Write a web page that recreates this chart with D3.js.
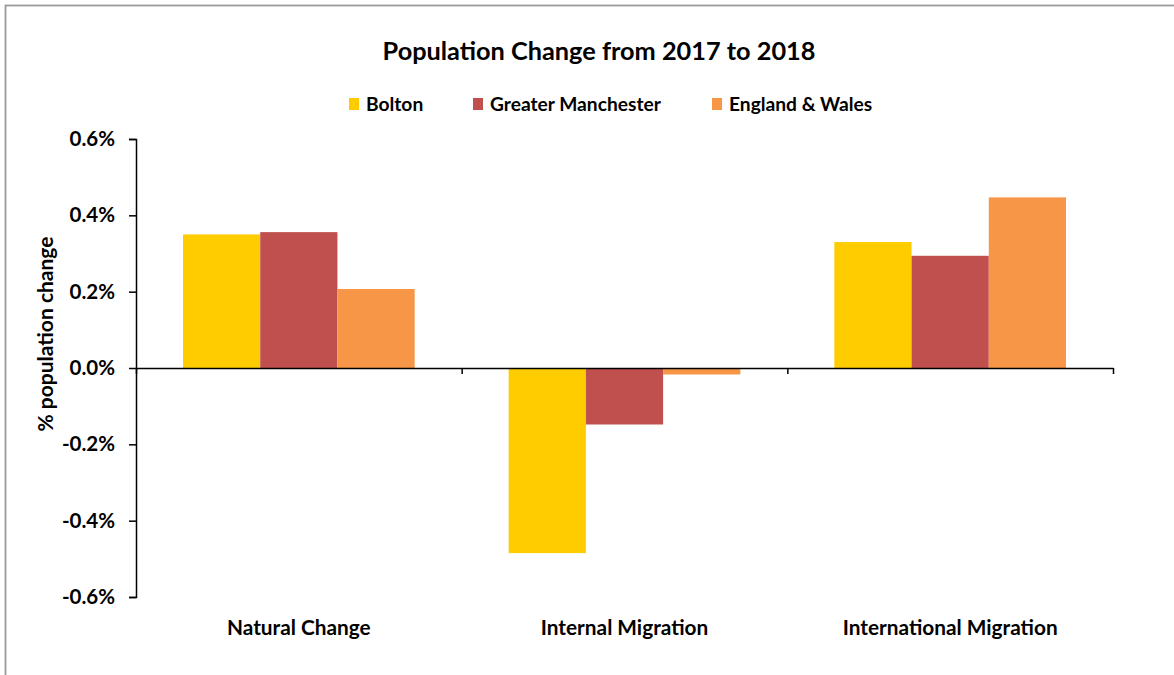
<!DOCTYPE html>
<html>
<head>
<meta charset="utf-8">
<script src="https://cdn.jsdelivr.net/npm/d3@7"></script>
<style>
  html, body { margin: 0; padding: 0; background: #fff; }
  svg { display: block; }
  text { font-family: Lato, "Open Sans", sans-serif; font-weight: bold; fill: #000; }
</style>
</head>
<body>
<svg id="chart" width="1174" height="675"></svg>
<script>
const title = "Population Change from 2017 to 2018";
const categories = ["Natural Change", "Internal Migration", "International Migration"];
const seriesNames = ["Bolton", "Greater Manchester", "England & Wales"];
const seriesColors = ["#FFCC00", "#C0504D", "#F79646"];
const bolton = [0.35, -0.485, 0.33];
const greaterManchester = [0.356, -0.148, 0.294];
const englandWales = [0.207, -0.017, 0.447];
const yTicks = [-0.6, -0.4, -0.2, 0.0, 0.2, 0.4, 0.6];
const yAxisTitle = "% population change";

const seriesValues = [bolton, greaterManchester, englandWales];

const svg = d3.select("#chart");

// outer border (only top/left visible)
svg.append("rect")
  .attr("x", 5.5).attr("y", 5.5)
  .attr("width", 1300).attr("height", 800)
  .attr("fill", "none").attr("stroke", "#9a9a9a").attr("stroke-width", 1.8);

const plotLeft = 136, plotRight = 1113, plotTop = 139, plotBottom = 597;

const x0 = d3.scaleBand().domain(categories).range([plotLeft, plotRight]).padding(0);
const gap = 47;
const x1 = d3.scaleBand().domain(seriesNames).range([gap, x0.bandwidth() - gap]).padding(0);
const y = d3.scaleLinear().domain([-0.6, 0.6]).range([plotBottom, plotTop]);

// bars
const groups = svg.append("g").selectAll("g")
  .data(categories)
  .join("g")
  .attr("transform", d => `translate(${x0(d)},0)`);

groups.selectAll("rect")
  .data((c, ci) => seriesNames.map((s, si) => ({ s, si, v: seriesValues[si][ci] })))
  .join("rect")
  .attr("x", d => x1(d.s))
  .attr("width", x1.bandwidth())
  .attr("y", d => y(Math.max(0, d.v)))
  .attr("height", d => Math.abs(y(d.v) - y(0)))
  .attr("fill", d => seriesColors[d.si]);

// y axis
const yAxis = d3.axisLeft(y)
  .tickValues(yTicks)
  .tickSize(7)
  .tickPadding(14)
  .tickFormat(d => d.toFixed(1) + "%");
const yg = svg.append("g").attr("transform", `translate(${plotLeft},0)`).call(yAxis);
yg.select(".domain").attr("stroke", "#000").attr("stroke-width", 1.5);
yg.selectAll(".tick line").attr("stroke", "#000").attr("stroke-width", 1.5);
yg.selectAll(".tick text")
  .style("font-family", "Lato, sans-serif")
  .style("font-weight", "bold")
  .style("font-size", "20.5px")
  .attr("fill", "#000");

// x axis at zero
const xAxisScale = d3.scaleLinear().domain([0, categories.length]).range([plotLeft, plotRight]);
const xg = svg.append("g").attr("transform", `translate(0,${y(0)})`)
  .call(d3.axisBottom(xAxisScale).tickValues(d3.range(categories.length + 1)).tickSize(6).tickSizeOuter(0).tickFormat(""));
xg.select(".domain").attr("stroke", "#000").attr("stroke-width", 1.5);
xg.selectAll(".tick line").attr("stroke", "#000").attr("stroke-width", 1.5);

// category labels
svg.append("g").selectAll("text")
  .data(categories)
  .join("text")
  .attr("x", d => x0(d) + x0.bandwidth() / 2)
  .attr("y", 635)
  .attr("text-anchor", "middle")
  .style("font-size", "20.8px")
  .text(d => d);

// y axis title
svg.append("text")
  .attr("transform", `translate(53,334) rotate(-90)`)
  .attr("text-anchor", "middle")
  .style("font-size", "21px")
  .text(yAxisTitle);

// title
svg.append("text")
  .attr("x", 599).attr("y", 60)
  .attr("text-anchor", "middle")
  .style("font-size", "25.3px")
  .text(title);

// legend
const legendX = [349, 473, 712];
const lg = svg.append("g").selectAll("g")
  .data(seriesNames)
  .join("g")
  .attr("transform", (d, i) => `translate(${legendX[i]},0)`);
lg.append("rect")
  .attr("x", 0).attr("y", 98).attr("width", 10).attr("height", 12)
  .attr("fill", (d, i) => seriesColors[i]);
lg.append("text")
  .attr("x", 17).attr("y", 111)
  .style("font-size", "19.2px")
  .text(d => d);
</script>
</body>
</html>
